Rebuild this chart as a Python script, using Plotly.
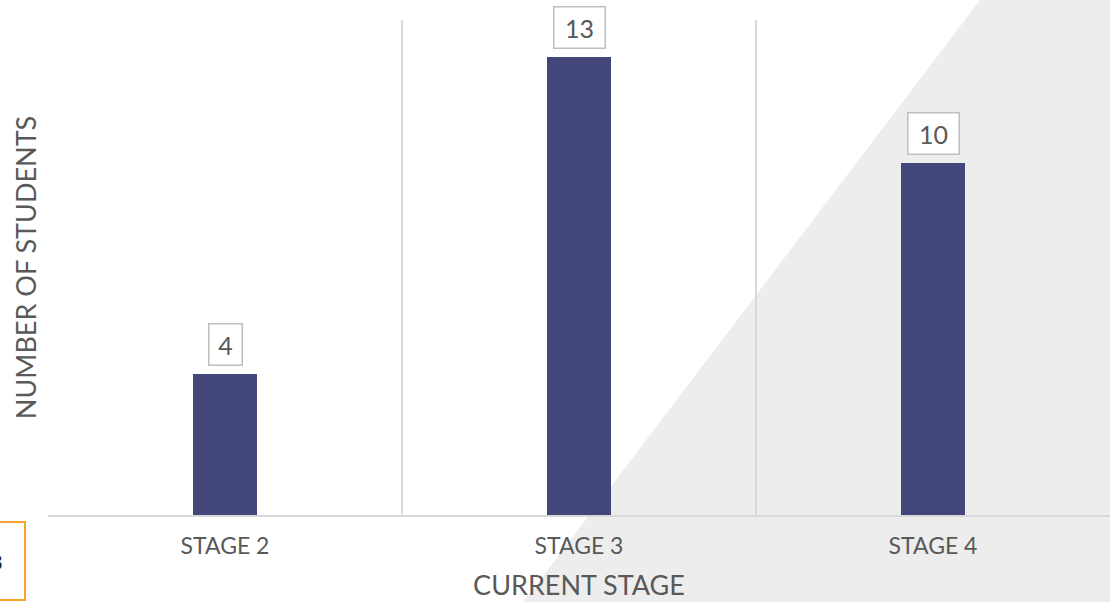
import plotly.graph_objects as go

categories = ["STAGE 2", "STAGE 3", "STAGE 4"]
students = [4, 13, 10]

W, H = 1110, 602
L, R, T, B = 48, 0, 20, 87
PW, PH = W - L - R, H - T - B

def px(x):
    return (x - L) / PW

def py(y):
    return (H - B - y) / PH

FONT = "Century Gothic, Lato, Open Sans, sans-serif"
TXT = "#595959"

fig = go.Figure()
fig.add_trace(go.Bar(
    x=categories, y=students, width=0.183,
    marker=dict(color="#434678", line=dict(width=0)),
    hoverinfo="skip",
))

shapes = [
    dict(type="path", xref="paper", yref="paper", layer="below",
         path=f"M {px(980)} {py(0)} L {px(1115)} {py(0)} L {px(1115)} {py(605)} L {px(521)} {py(605)} Z",
         fillcolor="#ededed", line=dict(width=0)),
    dict(type="rect", xref="paper", yref="paper", layer="above",
         x0=px(-5), x1=px(25), y0=py(600), y1=py(522),
         fillcolor="rgba(0,0,0,0)", line=dict(color="#f5a430", width=2)),
]

annotations = []
for c, v in zip(categories, students):
    annotations.append(dict(
        x=c, y=v, xref="x", yref="y", text=str(v), showarrow=False,
        yanchor="bottom", yshift=8,
        width=22 if v < 10 else 40, height=30,
        font=dict(family=FONT, size=25, color=TXT),
        bgcolor="white", bordercolor="#bfbfbf", borderwidth=1.5, borderpad=5,
    ))
annotations.append(dict(
    x=px(-4), y=py(561), xref="paper", yref="paper", text="3", showarrow=False,
    xanchor="center", yanchor="middle",
    font=dict(family=FONT, size=22, color="#222222"),
))

fig.update_layout(
    width=W, height=H,
    margin=dict(l=L, r=R, t=T, b=B, pad=0),
    paper_bgcolor="white", plot_bgcolor="rgba(0,0,0,0)",
    showlegend=False,
    shapes=shapes, annotations=annotations,
    bargap=0,
    xaxis=dict(
        type="category", range=[-0.5, 2.5], tickson="boundaries",
        showgrid=True, gridcolor="#d9d9d9", gridwidth=1.5,
        showline=True, linecolor="#d9d9d9", linewidth=1.5,
        ticks="", ticklen=0, ticklabelstandoff=10,
        tickfont=dict(family=FONT, size=23, color=TXT),
        title=dict(text="CURRENT STAGE", font=dict(family=FONT, size=27, color=TXT), standoff=18),
        fixedrange=True,
    ),
    yaxis=dict(
        range=[0, 495 / 35.2], showgrid=False, zeroline=False,
        showticklabels=False, showline=False, ticks="",
        title=dict(text="NUMBER OF STUDENTS", font=dict(family=FONT, size=27, color=TXT), standoff=2),
        fixedrange=True,
    ),
)

fig.write_html("out.html")
